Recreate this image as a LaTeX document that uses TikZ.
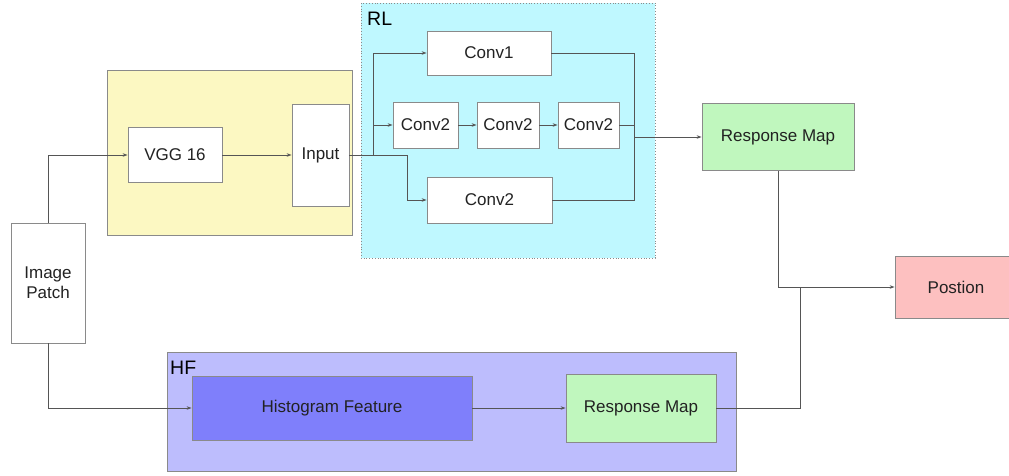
\documentclass[tikz,border=0pt]{standalone}
\usepackage{fontspec}
\setmainfont{Liberation Sans}
\usetikzlibrary{arrows.meta}
\definecolor{yel}{HTML}{FCF8C2}
\definecolor{cya}{HTML}{BFF8FF}
\definecolor{hfb}{HTML}{BDBDFD}
\definecolor{hist}{HTML}{7F7FFB}
\definecolor{grn}{HTML}{C0F7BE}
\definecolor{pnk}{HTML}{FDC0C0}
\definecolor{bord}{HTML}{8A8A8A}
\definecolor{ln}{HTML}{555555}
\definecolor{txt}{HTML}{222222}
\begin{document}
\begin{tikzpicture}[x=1pt,y=-1pt,
  blk/.style={draw=bord,line width=0.8pt,fill=white,inner sep=0pt,text=txt,
    font=\fontsize{17}{20}\selectfont,align=center},
  grp/.style={draw=bord,line width=0.8pt},
  lbl/.style={anchor=base west,inner sep=0pt,text=black,font=\fontsize{19.5}{22}\selectfont},
  con/.style={draw=ln,line width=0.9pt},
  arr/.style={con,-{Stealth[length=5pt,width=3.5pt]}}]
\useasboundingbox (0,0) rectangle (1009,475);
% groups
\draw[grp,fill=yel] (107,70) rectangle (352,235);
\draw[draw=bord,line width=0.8pt,dotted,fill=cya] (361,3) rectangle (655,258);
\draw[grp,fill=hfb] (167,352) rectangle (736,471);
\node[lbl] (rl) at (367,25) {RL};
\node[lbl] (hf) at (170,374) {HF};
% nodes
\node[blk,minimum width=74,minimum height=120] (patch) at (48,283) {Image\\Patch};
\node[blk,minimum width=94,minimum height=55] (vgg) at (175,155) {VGG 16};
\node[blk,minimum width=57,minimum height=102] (input) at (320.5,155) {Input};
\node[blk,minimum width=124,minimum height=44] (conv1) at (489,53) {Conv1};
\node[blk,minimum width=65,minimum height=46] (c2a) at (425.5,125) {Conv2};
\node[blk,minimum width=62,minimum height=46] (c2b) at (508,125) {Conv2};
\node[blk,minimum width=61,minimum height=46] (c2c) at (588.5,125) {Conv2};
\node[blk,minimum width=125,minimum height=46] (c2d) at (489.5,200) {Conv2};
\node[blk,fill=grn,minimum width=152,minimum height=67] (rm1) at (778,137) {Response Map};
\node[blk,fill=pnk,minimum width=122,minimum height=62] (pos) at (956,287) {Postion};
\node[blk,fill=hist,minimum width=280,minimum height=64] (histo) at (332,408) {Histogram Feature};
\node[blk,fill=grn,minimum width=150,minimum height=68] (rm2) at (641,408) {Response Map};
% coordinates
\coordinate (s1) at (373,155);
\coordinate (s2) at (407,155);
\coordinate (m1) at (634,137);
\coordinate (j1) at (800,287);
% connectors
\draw[arr] (patch.north) |- (vgg.west);
\draw[arr] (patch.south) |- (histo.west);
\draw[arr] (vgg.east) -- (input.west);
\draw[con] (input.east) -- (s2);
\draw[arr] (s1) |- (conv1.west);
\draw[arr] (s1) |- (c2a.west);
\draw[arr] (s2) |- (c2d.west);
\draw[arr] (c2a) -- (c2b);
\draw[arr] (c2b) -- (c2c);
\draw[con] (conv1.east) -| (m1);
\draw[con] (c2d.east) -| (m1);
\draw[con] (c2c.east) -| (m1);
\draw[arr] (m1) -- (rm1.west);
\draw[arr] (rm1.south) |- (pos.west);
\draw[con] (rm2.east) -| (j1);
\draw[arr] (histo.east) -- (rm2.west);
\end{tikzpicture}
\end{document}
